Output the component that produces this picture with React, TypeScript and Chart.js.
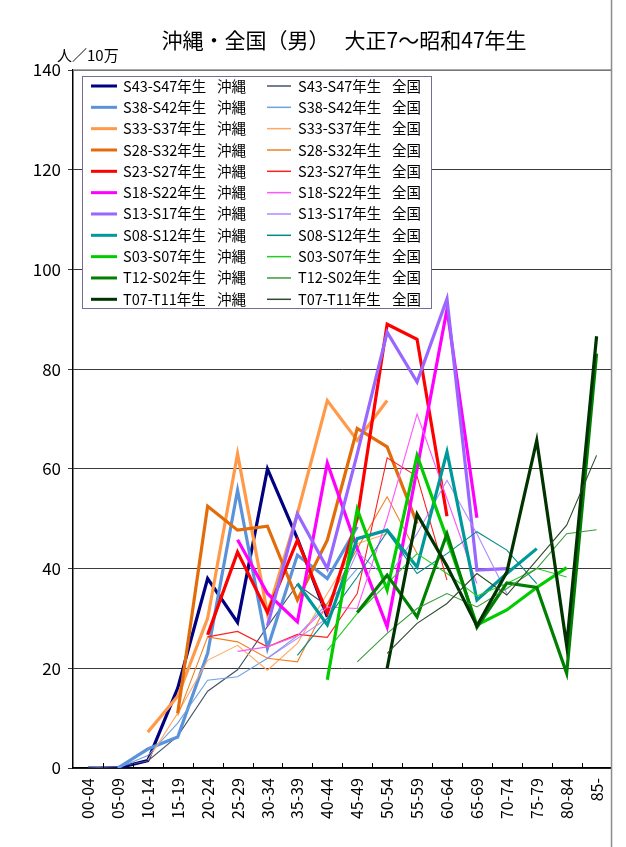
import React, { useEffect, useRef } from "react";
import { Chart, registerables } from "chart.js";

Chart.register(...registerables);

const categories = ["00-04","05-09","10-14","15-19","20-24","25-29","30-34","35-39","40-44","45-49","50-54","55-59","60-64","65-69","70-74","75-79","80-84","85-"];
const yTicks = [0, 20, 40, 60, 80, 100, 120, 140];
const titleText = "沖縄・全国（男）　 大正7〜昭和47年生";
const unitText = "人／10万";

const cohorts = ["S43-S47年生","S38-S42年生","S33-S37年生","S28-S32年生","S23-S27年生","S18-S22年生","S13-S17年生","S08-S12年生","S03-S07年生","T12-S02年生","T07-T11年生"];
const regions = ["沖縄", "全国"];

// Okinawa (thick) series
const okiS43 = [0, 0, 1.5, 16, 38, 29.2, 60, 46, 30.3, null, null, null, null, null, null, null, null, null];
const okiS38 = [null, 0, 3.8, 6.2, 23, 55.7, 24, 42.7, 38, 48.4, null, null, null, null, null, null, null, null];
const okiS33 = [null, null, 7.2, 14.4, 30, 63, 31, 51, 73.7, 65.7, 73.7, null, null, null, null, null, null, null];
const okiS28 = [null, null, null, 11, 52.5, 47.7, 48.5, 33.7, 45.7, 68.1, 64.4, 49, null, null, null, null, null, null];
const okiS23 = [null, null, null, null, 26.7, 43.3, 31.2, 45.7, 31, 50, 89, 86, 50.5, null, null, null, null, null];
const okiS18 = [null, null, null, null, null, 45.8, 35, 29.3, 61.2, 44, 28.3, 60, 92, 50.2, null, null, null, null];
const okiS13 = [null, null, null, null, null, null, 28.5, 51, 40, 63, 87.4, 77.4, 94.1, 39.7, 40, null, null, null];
const okiS08 = [null, null, null, null, null, null, null, 37, 28.7, 46, 47.7, 40.3, 63.4, 33.7, 39, 44, null, null];
const okiS03 = [null, null, null, null, null, null, null, null, 17.7, 51.9, 35.7, 62.7, 46, 28.7, 31.7, 36.2, 40.2, null];
const okiT12 = [null, null, null, null, null, null, null, null, null, 31.2, 38.7, 30.3, 47, 28.2, 37.1, 36.2, 19, 83.1];
const okiT07 = [null, null, null, null, null, null, null, null, null, null, 20, 50.9, 40.5, 28.5, 39.3, 65.7, 24.6, 86.6];

// Nationwide (thin) series
const natS43 = [0, 0.3, 1.4, 6.4, 15.4, 19.7, 28.4, 36.8, 32.5, null, null, null, null, null, null, null, null, null];
const natS38 = [null, 0, 2.5, 9, 17.6, 18.3, 22, 26.5, 33, 40, null, null, null, null, null, null, null, null];
const natS33 = [null, null, 1.6, 11, 21.6, 24.6, 19.6, 25, 35, 45, 47, null, null, null, null, null, null, null];
const natS28 = [null, null, null, 10.5, 26.3, 25.3, 22, 21.3, 33, 44, 54.4, 43, null, null, null, null, null, null];
const natS23 = [null, null, null, null, 26.3, 27.4, 24.3, 26.8, 26.2, 35, 62.2, 58.5, 37.7, null, null, null, null, null];
const natS18 = [null, null, null, null, null, 23.4, 24.3, 26.5, 32.3, 32, 50, 71, 54, 37, null, null, null, null];
const natS13 = [null, null, null, null, null, null, 22, 26, 30, 43.3, 38, 47, 57.7, 47, 35, null, null, null];
const natS08 = [null, null, null, null, null, null, null, 22.6, 30, 38.3, 47.4, 39, 43, 47.4, 43.7, 37, null, null];
const natS03 = [null, null, null, null, null, null, null, null, 23.6, 31, 37, 43, 39, 34.5, 37, 40, 38.3, null];
const natT12 = [null, null, null, null, null, null, null, null, null, 21.3, 27, 32, 35, 32.3, 36, 40, 47, 47.8];
const natT07 = [null, null, null, null, null, null, null, null, null, null, 23, 29, 33, 39, 34.7, 41.7, 48.7, 62.7];

const okiSeries = [okiS43, okiS38, okiS33, okiS28, okiS23, okiS18, okiS13, okiS08, okiS03, okiT12, okiT07];
const natSeries = [natS43, natS38, natS33, natS28, natS23, natS18, natS13, natS08, natS03, natT12, natT07];

const okiColors = ["#000080", "#5B93DB", "#FF9A4A", "#E36C0A", "#FF0000", "#FF00FF", "#9966FF", "#009999", "#00CC00", "#008000", "#003300"];
const natColors = ["#44546A", "#6FA3E0", "#FFA866", "#F08020", "#FF2020", "#FF55FF", "#B088FF", "#008B8B", "#22CC22", "#3C9A3C", "#2E4A2E"];

const FONT = "'Noto Sans CJK JP', 'Noto Sans', sans-serif";

const overlayPlugin = {
  id: "overlay",
  afterDatasetsDraw(chart: any) {
    const ctx = chart.ctx;
    const area = chart.chartArea;
    ctx.save();
    // plot border (top) and full-height frame line on the right
    ctx.strokeStyle = "#8C8C8C";
    ctx.lineWidth = 1.5;
    ctx.beginPath();
    ctx.moveTo(area.left, area.top);
    ctx.lineTo(area.right, area.top);
    ctx.stroke();
    ctx.beginPath();
    ctx.moveTo(area.right, 0);
    ctx.lineTo(area.right, 847);
    ctx.stroke();
    // x tick marks (inside, at category boundaries)
    const n = categories.length;
    const w = (area.right - area.left) / n;
    ctx.strokeStyle = "#000";
    ctx.lineWidth = 1;
    ctx.beginPath();
    for (let i = 1; i < n; i++) {
      const x = Math.round(area.left + i * w) + 0.5;
      ctx.moveTo(x, area.bottom);
      ctx.lineTo(x, area.bottom - 5);
    }
    ctx.stroke();

    // legend box
    const lx = 82, ly = 76, lw = 349, lh = 232;
    ctx.fillStyle = "#FFFFFF";
    ctx.fillRect(lx, ly, lw, lh);
    ctx.strokeStyle = "#7A6A98";
    ctx.lineWidth = 1;
    ctx.strokeRect(lx + 0.5, ly + 0.5, lw, lh);
    ctx.font = "14.5px " + FONT;
    ctx.textBaseline = "middle";
    ctx.textAlign = "left";
    const ds = chart.data.datasets;
    for (let i = 0; i < ds.length; i++) {
      const col = i % 2;
      const row = Math.floor(i / 2);
      const y = 86 + row * 21.33;
      const x0 = col === 0 ? 91 : 267;
      const x1 = col === 0 ? 117 : 291;
      const tx = col === 0 ? 123 : 298;
      ctx.strokeStyle = ds[i].borderColor;
      ctx.lineWidth = col === 0 ? 3 : 1.5;
      ctx.beginPath();
      ctx.moveTo(x0, y);
      ctx.lineTo(x1, y);
      ctx.stroke();
      ctx.fillStyle = "#000";
      const parts = ds[i].label.split("　");
      ctx.fillText(parts[0], tx, y);
      ctx.fillText(parts[1], tx + 94, y);
    }

    // title and unit
    ctx.fillStyle = "#000";
    ctx.textAlign = "center";
    ctx.font = "21px " + FONT;
    ctx.fillText(titleText, 344, 40);
    ctx.textAlign = "left";
    ctx.font = "15px " + FONT;
    ctx.fillText(unitText, 57, 55);
    ctx.restore();
  },
};

export default function App() {
  const ref = useRef<HTMLCanvasElement | null>(null);
  useEffect(() => {
    if (!ref.current) return;
    const datasets: any[] = [];
    for (let i = 0; i < cohorts.length; i++) {
      datasets.push({
        label: cohorts[i] + "　" + regions[0],
        data: okiSeries[i],
        borderColor: okiColors[i],
        backgroundColor: okiColors[i],
        borderWidth: 3.2,
        pointRadius: 0,
        tension: 0,
        spanGaps: false,
      });
      datasets.push({
        label: cohorts[i] + "　" + regions[1],
        data: natSeries[i],
        borderColor: natColors[i],
        backgroundColor: natColors[i],
        borderWidth: 1.1,
        pointRadius: 0,
        tension: 0,
        spanGaps: false,
      });
    }
    const N = datasets.length;
    datasets.forEach((d, i) => (d.order = N - 1 - i));

    const chart = new Chart(ref.current, {
      type: "line",
      data: { labels: categories, datasets },
      options: {
        animation: false,
        responsive: false,
        devicePixelRatio: 1,
        layout: { padding: { top: 70, right: 8, left: 0, bottom: 0 } },
        plugins: { legend: { display: false }, title: { display: false }, tooltip: { enabled: false } },
        scales: {
          x: {
            type: "category",
            offset: true,
            grid: { display: false, drawTicks: false },
            border: { display: true, color: "#000", width: 1.5 },
            ticks: {
              autoSkip: false,
              minRotation: 90,
              maxRotation: 90,
              padding: 10,
              color: "#000",
              font: { family: FONT, size: 16 },
            },
            afterFit: (s: any) => { s.height = 79; },
          },
          y: {
            min: 0,
            max: 140,
            afterBuildTicks: (s: any) => { s.ticks = yTicks.map((v) => ({ value: v })); },
            grid: { color: "#3A3A3A", lineWidth: 1, tickLength: 5 },
            border: { display: true, color: "#000", width: 1.5 },
            ticks: { color: "#000", padding: 7, font: { family: FONT, size: 17 } },
            afterFit: (s: any) => { s.width = 73; },
          },
        },
      },
      plugins: [overlayPlugin],
    });
    return () => chart.destroy();
  }, []);
  return (
    <div style={{ position: "absolute", left: 0, top: 0, width: 626, height: 847, background: "#fff" }}>
      <canvas ref={ref} width={626} height={847} style={{ width: 626, height: 847 }} />
    </div>
  );
}
